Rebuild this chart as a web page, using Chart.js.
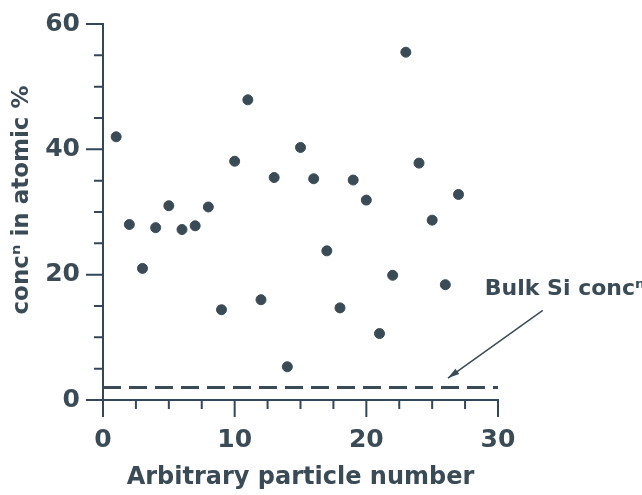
<!DOCTYPE html>
<html>
<head>
<meta charset="utf-8">
<script src="https://cdn.jsdelivr.net/npm/chart.js@4/dist/chart.umd.min.js"></script>
<style>
  html, body { margin: 0; padding: 0; background: #fff; }
  #wrap { width: 642px; height: 495px; }
</style>
</head>
<body>
<div id="wrap"><canvas id="siChart" width="642" height="495"></canvas></div>
<script>
// particle numbers and Si concentration (atomic %)
const particleNo = [1, 2, 3, 4, 5, 6, 7, 8, 9, 10, 11, 12, 13, 14, 15, 16, 17, 18, 19, 20, 21, 22, 23, 24, 25, 26, 27];
const siConc = [42.0, 28.0, 21.0, 27.5, 31.0, 27.2, 27.8, 30.8, 14.4, 38.1, 47.9, 16.0, 35.5, 5.3, 40.3, 35.3, 23.8, 14.7, 35.1, 31.9, 10.6, 19.9, 55.5, 37.8, 28.7, 18.4, 32.8];

// bulk Si level, dashed across the whole x range
const bulkX = [0, 30];
const bulkY = [2, 2];

// annotation: label anchor and arrow (tail -> head), in data units
const labelText = 'Bulk Si concⁿ';
const labelAt = [29.0, 17.7];
const arrowFrom = [33.4, 14.3];
const arrowTo = [26.2, 3.5];

// axis ticks
const xMinorStep = 2.5;
const yMinorStep = 5;

const ink = '#3b4b56';
const axisInk = '#33465a';
const fontFam = '"DejaVu Sans", sans-serif';

// minor/major tick marks + annotation arrow
const extrasPlugin = {
  id: 'extras',
  afterDraw(chart) {
    const ctx = chart.ctx;
    const xs = chart.scales.x, ys = chart.scales.y;
    const area = chart.chartArea;
    ctx.save();
    ctx.strokeStyle = axisInk;
    ctx.lineWidth = 2;
    ctx.beginPath();
    for (let v = xs.min; v <= xs.max + 0.001; v += xMinorStep) {
      const px = xs.getPixelForValue(v);
      const len = (v % 10 === 0) ? 17 : 9;
      ctx.moveTo(px, area.bottom);
      ctx.lineTo(px, area.bottom + len);
    }
    for (let v = ys.min; v <= ys.max + 0.001; v += yMinorStep) {
      const py = ys.getPixelForValue(v);
      const len = (v % 20 === 0) ? 17 : 9;
      ctx.moveTo(area.left, py);
      ctx.lineTo(area.left - len, py);
    }
    ctx.stroke();

    // arrow
    const x1 = xs.getPixelForValue(arrowFrom[0]), y1 = ys.getPixelForValue(arrowFrom[1]);
    const x2 = xs.getPixelForValue(arrowTo[0]), y2 = ys.getPixelForValue(arrowTo[1]);
    ctx.strokeStyle = ink;
    ctx.fillStyle = ink;
    ctx.lineWidth = 1.5;
    ctx.beginPath();
    ctx.moveTo(x1, y1);
    ctx.lineTo(x2, y2);
    ctx.stroke();
    const ang = Math.atan2(y2 - y1, x2 - x1);
    ctx.beginPath();
    ctx.moveTo(x2, y2);
    ctx.lineTo(x2 - 12 * Math.cos(ang - 0.28), y2 - 12 * Math.sin(ang - 0.28));
    ctx.lineTo(x2 - 12 * Math.cos(ang + 0.28), y2 - 12 * Math.sin(ang + 0.28));
    ctx.closePath();
    ctx.fill();

    // label
    ctx.font = 'bold 22px ' + fontFam;
    ctx.textBaseline = 'middle';
    ctx.textAlign = 'left';
    ctx.fillText(labelText, xs.getPixelForValue(labelAt[0]), ys.getPixelForValue(labelAt[1]));
    ctx.restore();
  }
};

const ctx = document.getElementById('siChart');

new Chart(ctx, {
  type: 'scatter',
  data: {
    datasets: [{
      label: 'Si',
      data: particleNo.map((n, i) => ({ x: n, y: siConc[i] })),
      backgroundColor: ink,
      borderColor: ink,
      pointRadius: 5,
      pointHoverRadius: 5
    }, {
      label: 'bulk',
      type: 'line',
      data: bulkX.map((x, i) => ({ x: x, y: bulkY[i] })),
      borderColor: ink,
      borderWidth: 3,
      borderDash: [18, 8],
      pointRadius: 0,
      fill: false
    }]
  },
  options: {
    responsive: false,
    animation: false,
    events: [],
    layout: { padding: { top: 24, right: 144, left: 0, bottom: 0 } },
    plugins: {
      legend: { display: false },
      tooltip: { enabled: false }
    },
    scales: {
      x: {
        type: 'linear',
        min: 0,
        max: 30,
        afterFit: s => { s.height = 95; s.paddingLeft = 0; s.paddingRight = 0; },
        grid: { display: false, drawTicks: false },
        border: { display: true, color: axisInk, width: 2 },
        ticks: {
          stepSize: 10,
          padding: 25,
          color: ink,
          font: { family: fontFam, size: 25, weight: 'bold' }
        },
        title: {
          display: true,
          text: 'Arbitrary particle number',
          color: ink,
          padding: { top: 0, bottom: 3 },
          font: { family: fontFam, size: 24, weight: 'bold' }
        }
      },
      y: {
        type: 'linear',
        min: 0,
        max: 60,
        afterFit: s => { s.width = 103; s.paddingTop = 0; s.paddingBottom = 0; },
        grid: { display: false, drawTicks: false },
        border: { display: true, color: axisInk, width: 2 },
        ticks: {
          stepSize: 20,
          padding: 23,
          color: ink,
          font: { family: fontFam, size: 25, weight: 'bold' }
        },
        title: {
          display: true,
          text: '   concⁿ in atomic %',
          color: ink,
          padding: { top: 8, bottom: 0 },
          font: { family: fontFam, size: 23, weight: 'bold' }
        }
      }
    }
  },
  plugins: [extrasPlugin]
});
</script>
</body>
</html>
